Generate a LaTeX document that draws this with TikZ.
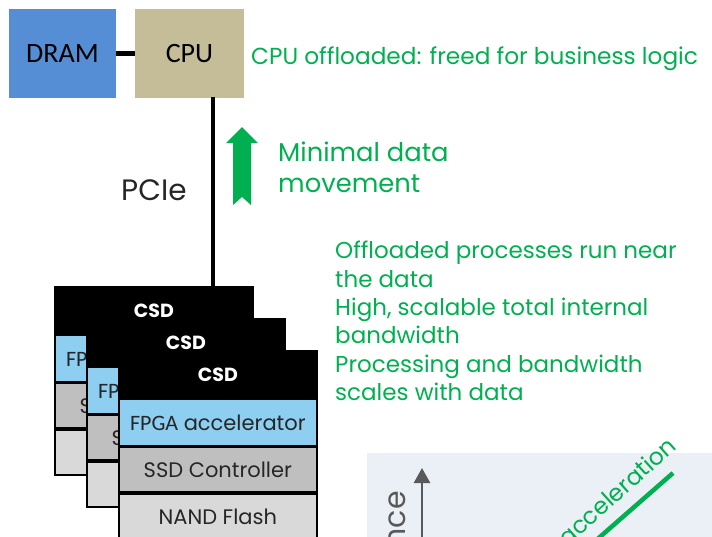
\documentclass[tikz,border=0pt]{standalone}
\usepackage{fontspec}
\setmainfont{Poppins}
\newfontfamily\calib{Carlito}
\usetikzlibrary{arrows.meta}
\definecolor{dramblue}{HTML}{558ED5}
\definecolor{cputan}{HTML}{C4BD97}
\definecolor{fpgablue}{HTML}{8ECFF1}
\definecolor{ctrlgray}{HTML}{BFBFBF}
\definecolor{flashgray}{HTML}{D9D9D9}
\definecolor{txtgreen}{HTML}{00B050}
\definecolor{txtdark}{HTML}{262626}
\definecolor{panelbg}{HTML}{EBEFF6}
\definecolor{axisgray}{HTML}{595959}
\tikzset{
  hostbox/.style={inner sep=0pt, text=black, font=\calib\fontsize{28}{30}\selectfont},
  layer/.style={draw=black, line width=1.7pt, anchor=north west, inner sep=0pt,
    minimum width=198pt, text=txtdark, font=\fontsize{21}{23}\selectfont},
  gtext/.style={text=txtgreen, inner sep=0pt, anchor=base west},
  link/.style={line width=4.5pt, black},
}
\begin{document}
\begin{tikzpicture}[x=1pt,y=-1pt]
\useasboundingbox (0,0) rectangle (712,536);

% host side
\node[hostbox, fill=dramblue, minimum width=107pt, minimum height=89pt] (dram) at (62.5,53.5) {DRAM};
\node[hostbox, fill=cputan, minimum width=109pt, minimum height=89pt] (cpu) at (189.5,53.5) {CPU};
\draw[link] (dram.east) -- (cpu.west);
\coordinate (pcietop) at (213,97);

% stacked computational storage drives
\foreach \i/\ox/\oy in {1/0/0, 2/32/32, 3/64/64}{
  \node[layer, fill=black, minimum height=47pt, text=white,
        font=\bfseries\fontsize{19}{21}\selectfont] (top\i) at (54+\ox,286+\oy) {CSD};
  \node[layer, fill=fpgablue, minimum height=46pt] (fpga\i) at (top\i.south west)
        {{\calib\fontsize{22}{23}\selectfont FPGA} accelerator};
  \node[layer, fill=ctrlgray, minimum height=45pt] (ctrl\i) at (fpga\i.south west) {SSD Controller};
  \node[layer, fill=flashgray, minimum height=45pt] (nand\i) at (ctrl\i.south west) {NAND Flash};
}
\draw[line width=4pt] (pcietop) -- (pcietop |- top1.north);
\node[text=txtdark, font=\fontsize{29.5}{31}\selectfont, anchor=base west, inner sep=0pt] (pcie) at (121,200) {PCIe};

% upward data arrow
\fill[txtgreen] (242,127) -- (258,143) -- (251,143) -- (251,205) -- (242,197)
  -- (233,205) -- (233,143) -- (226,143) -- cycle;

% annotations
\node[gtext, font=\fontsize{23.2}{25}\selectfont] (note1) at (251,64) {CPU offloaded: freed for business logic};
\node[gtext, font=\fontsize{25.8}{28}\selectfont] (mv1) at (278,161) {Minimal data};
\node[gtext, font=\fontsize{25.8}{28}\selectfont] (mv2) at (278,192) {movement};
\foreach \n/\y/\t in {a/258/Offloaded processes run near, b/287/the data,
    c/315/{High, scalable total internal}, d/343/bandwidth,
    e/372/Processing and bandwidth, f/400/scales with data}{
  \node[gtext, font=\fontsize{23}{25}\selectfont] (pt\n) at (335,\y) {\t};
}

% performance chart (runs on past the lower edge of the page)
\fill[panelbg] (367,453) rectangle (712,560);
\coordinate (axbot) at (422,560);
\coordinate (axtop) at (422,468);
\draw[axisgray, line width=2.6pt, -{Triangle[width=16pt,length=15pt]}] (axbot) -- (axtop);
\node[text=axisgray, rotate=90, anchor=base east, inner sep=0pt,
      font=\fontsize{30}{32}\selectfont] (ylab) at (405,491) {Performance};
\coordinate (accA) at (673,473);
\coordinate (accB) at (585,550);
\draw[txtgreen, line width=4.5pt] (accB) -- (accA);
\node[text=txtgreen, rotate=42, anchor=base east, inner sep=0pt,
      font=\fontsize{23.5}{25}\selectfont] (acc) at (678,448) {acceleration};
\end{tikzpicture}
\end{document}
